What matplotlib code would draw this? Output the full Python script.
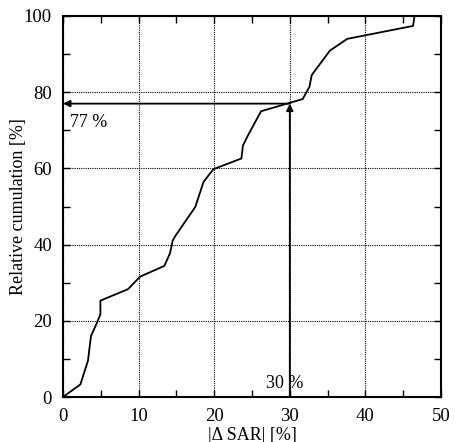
import matplotlib
matplotlib.use("Agg")
import matplotlib.pyplot as plt
from matplotlib.ticker import MultipleLocator

# data
dsar = [0, 2.3, 3.3, 3.7, 4.45, 4.95, 4.95, 8.6, 10.2, 13.4, 14.15, 14.5, 14.8,
        17.5, 17.8, 18.6, 19.9, 23.6, 23.8, 24.5, 26.2, 31.7, 32.6, 32.9, 35.3,
        37.6, 46.3, 46.5]
cum = [0, 3.3, 9.5, 16.0, 19.3, 21.7, 25.3, 28.3, 31.6, 34.4, 37.7, 41.0, 42.1,
       49.9, 51.7, 56.5, 59.8, 62.6, 66.0, 68.8, 75.0, 78.2, 81.4, 84.5, 90.9,
       94.0, 97.4, 100]
mark_x = 30
mark_y = 77
x_ticks = [0, 10, 20, 30, 40, 50]
y_ticks = [0, 20, 40, 60, 80, 100]

plt.rcParams['font.family'] = ['Liberation Serif', 'DejaVu Serif']

fig = plt.figure(figsize=(4.55, 4.42), dpi=100)
ax = fig.add_axes([63/455, 1-397/442, (441-63)/455, (397-16)/442])

ax.plot(dsar, cum, color='black', lw=1.3, zorder=3)

ax.set_xlim(0, 50)
ax.set_ylim(0, 100)
ax.set_xticks(x_ticks)
ax.set_yticks(y_ticks)
ax.xaxis.set_minor_locator(MultipleLocator(5))
ax.yaxis.set_minor_locator(MultipleLocator(10))
ax.tick_params(which='both', direction='in', top=True, right=True,
               labelsize=13.5, width=1.0, color='black')
ax.tick_params(which='major', length=5)
ax.tick_params(axis='x', which='major', pad=8)
ax.tick_params(axis='y', which='major', pad=8)
ax.tick_params(which='minor', length=5)
ax.grid(True, which='major', linestyle=(0, (1, 1)), color='black', lw=0.8)
for s in ax.spines.values():
    s.set_linewidth(1.5)

# arrows
ax.annotate('', xy=(0, mark_y), xytext=(mark_x, mark_y),
            arrowprops=dict(arrowstyle='-|>', color='black', lw=1.3,
                            mutation_scale=10, shrinkA=0, shrinkB=0), zorder=4)
ax.annotate('', xy=(mark_x, mark_y), xytext=(mark_x, 0),
            arrowprops=dict(arrowstyle='-|>', color='black', lw=1.3,
                            mutation_scale=10, shrinkA=0, shrinkB=0), zorder=4)
ax.text(0.9, 72, '77 %', fontsize=13, va='center', ha='left')
ax.text(26.9, 3.6, '30 %', fontsize=13, va='center', ha='left')

ax.set_xlabel('|Δ SAR| [%]', fontsize=13, labelpad=1)
ax.set_ylabel('Relative cumulation [%]', fontsize=13, labelpad=-2)

fig.savefig('out.png', dpi=100)
